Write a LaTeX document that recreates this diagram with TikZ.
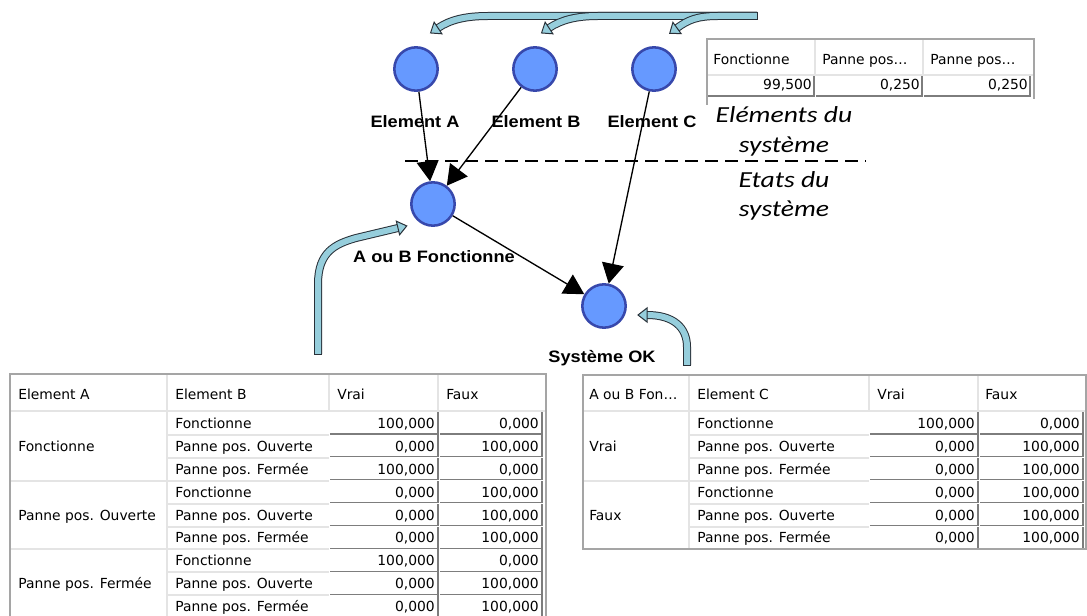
\documentclass[tikz,border=0pt]{standalone}
\usepackage{fontspec}
\usetikzlibrary{arrows.meta,decorations.markings}
\newfontfamily\tabfont{DejaVu Sans}
\newfontfamily\lblfont[FakeStretch=1.1]{Liberation Sans}
\newfontfamily\itfont[FakeStretch=1.2]{Carlito}
\definecolor{nodefill}{RGB}{102,153,255}
\definecolor{nodeline}{RGB}{55,72,172}
\definecolor{arfill}{RGB}{150,206,220}
\definecolor{arline}{RGB}{40,48,56}
\definecolor{gridlight}{RGB}{228,228,228}
\definecolor{gridouter}{RGB}{165,165,165}
\definecolor{celldark}{RGB}{125,125,125}
\begin{document}
\begin{tikzpicture}[x=0.75pt,y=-0.75pt,
  state/.style={circle, draw=nodeline, fill=nodefill, line width=1.9pt, minimum size=32.5pt, inner sep=0pt},
  lbl/.style={font=\lblfont\bfseries\fontsize{12.4pt}{14pt}\selectfont, inner sep=0pt},
  ittxt/.style={font=\itfont\itshape\fontsize{17.25pt}{20pt}\selectfont, inner sep=0pt},
  link/.style={draw=black, line width=1pt, -{Triangle[length=15pt, width=16.5pt]}},
  dashline/.style={draw=black, line width=0.8pt, dash pattern=on 9.75pt off 5.25pt},
  bigarrow/.style={preaction={draw=arline, line width=6pt}, draw=arfill, line width=4.5pt,
    postaction={decorate, decoration={markings,
      mark=at position 0 with {\draw[arline, line width=0.75pt] (0,-4) -- (0,4);},
      mark=at position 0.9999 with {\filldraw[fill=arfill, draw=arline, line width=0.75pt, line join=miter] (0,-7) -- (9,0) -- (0,7) -- cycle;}}}},
  tabtxt/.style={font=\tabfont\fontsize{10.4pt}{12pt}\selectfont, inner sep=0pt, anchor=base west},
  tabnum/.style={font=\tabfont\fontsize{10.4pt}{12pt}\selectfont, inner sep=0pt, anchor=base east},
  light/.style={draw=gridlight, line width=1.5pt},
  outer/.style={draw=gridouter, line width=0.9pt},
  sunk/.style={draw=celldark, line width=1pt}
]
\useasboundingbox (0,0) rectangle (1087,616);
\fill[white] (0,0) rectangle (1087,616);

% ---------- top-right small table ----------
\draw[light] (815,39) -- (815,75);
\draw[light] (923,39) -- (923,75);
\draw[light] (707,75) -- (1034,75);
\draw[sunk] (708,96) -- (814,96) -- (814,76);
\draw[sunk] (816,96) -- (922,96) -- (922,76);
\draw[sunk] (924,96) -- (1030,96) -- (1030,76);
\draw[outer] (707,105) -- (707,39) -- (1034,39) -- (1034,99);
\node[tabtxt] (t1) at (713,65) {Fonctionne};
\node[tabtxt] (t2) at (822,65) {Panne pos…};
\node[tabtxt] (t3) at (930,65) {Panne pos…};
\node[tabnum] (t4) at (812,90) {99,500};
\node[tabnum] (t5) at (920,90) {0,250};
\node[tabnum] (t6) at (1028,90) {0,250};

% ---------- italic texts ----------
\node[ittxt] (e1) at (784,115) {Eléments du};
\node[ittxt] (e2) at (784,147) {système};
\node[ittxt] (e3) at (784,180) {Etats du};
\node[ittxt] (e4) at (784,211) {système};
\coordinate (d1) at (405,161);
\coordinate (d2) at (866,161);
\draw[dashline] (d1) -- (d2);

% ---------- nodes ----------
\node[state] (A) at (416,69) {};
\node[state] (B) at (535,69) {};
\node[state] (C) at (654,69) {};
\node[state] (AB) at (433,204) {};
\node[state] (OK) at (604,306) {};
\node[lbl] (lA) at (415,122) {Element A};
\node[lbl] (lB) at (536,122) {Element B};
\node[lbl] (lC) at (652,122) {Element C};
\node[lbl] (lAB) at (434,257) {A ou B Fonctionne};
\node[lbl] (lOK) at (602,358) {Système OK};
\draw[link] (A) -- (AB);
\draw[link] (B) -- (AB);
\draw[link] (C) -- (OK);
\draw[link] (AB) -- (OK);

% ---------- big curved arrows ----------
\coordinate (src) at (757,16);
\coordinate (hA) at (438,28);
\coordinate (hB) at (549,28);
\coordinate (hC) at (677,28);
\draw[bigarrow] (src) -- (488,16) .. controls (465,16) and (450,20) .. (hA);
\draw[bigarrow] (src) -- (598,16) .. controls (576,16) and (561,20) .. (hB);
\draw[bigarrow] (src) -- (718,16) .. controls (697,16) and (688,20) .. (hC);
\coordinate (srcL) at (318,354);
\coordinate (hAB) at (398,228);
\draw[bigarrow] (srcL) -- (318,284) .. controls (318,252) and (335,244) .. (356,238) -- (hAB);
\coordinate (srcR) at (687,365);
\coordinate (hOK) at (647,315);
\draw[bigarrow] (srcR) -- (687,347) .. controls (687,327) and (673,315) .. (hOK);

% ---------- left table ----------
\foreach \i in {1,...,8} {
  \draw[light] (167,{412+22.9*\i}) -- (329,{412+22.9*\i});
}
\draw[light] (10,480.7) -- (167,480.7);
\draw[light] (10,549.4) -- (167,549.4);
\draw[light] (167,374) -- (167,616);
\draw[light] (329,374) -- (329,411);
\draw[light] (438,374) -- (438,411);
\draw[light] (10,411) -- (546,411);
\foreach \i in {1,...,9} {
  \pgfmathsetmacro\yt{412+22.9*(\i-1)}
  \pgfmathsetmacro\ybt{412+22.9*\i-1}
  \draw[sunk] (330,\ybt) -- (438,\ybt) -- (438,\yt);
  \draw[sunk] (440,\ybt) -- (542,\ybt) -- (542,\yt);
}
\draw[outer] (10,616) -- (10,374) -- (546,374) -- (546,616);
\node[tabtxt] (lh1) at (18,399) {Element A};
\node[tabtxt] (lh2) at (175,399) {Element B};
\node[tabtxt] (lh3) at (337,399) {Vrai};
\node[tabtxt] (lh4) at (446,399) {Faux};
\node[tabtxt] (lg1) at (18,451) {Fonctionne};
\node[tabtxt] (lg2) at (18,520) {Panne pos. Ouverte};
\node[tabtxt] (lg3) at (18,588) {Panne pos. Fermée};
\foreach \i/\eb/\va/\vb in {1/Fonctionne/{100,000}/{0,000}, 2/Panne pos. Ouverte/{0,000}/{100,000}, 3/Panne pos. Fermée/{100,000}/{0,000}, 4/Fonctionne/{0,000}/{100,000}, 5/Panne pos. Ouverte/{0,000}/{100,000}, 6/Panne pos. Fermée/{0,000}/{100,000}, 7/Fonctionne/{100,000}/{0,000}, 8/Panne pos. Ouverte/{0,000}/{100,000}, 9/Panne pos. Fermée/{0,000}/{100,000}} {
  \pgfmathsetmacro\yb{400.55+22.9*\i+5}
  \node[tabtxt] (LB\i) at (175,\yb) {\eb};
  \node[tabnum] (LV\i) at (435,\yb) {\va};
  \node[tabnum] (LF\i) at (539,\yb) {\vb};
}

% ---------- right table ----------
\foreach \i in {1,...,5} {
  \draw[light] (689,{412+22.9*\i}) -- (869,{412+22.9*\i});
}
\draw[light] (583,480.7) -- (689,480.7);
\draw[light] (689,375) -- (689,549);
\draw[light] (869,375) -- (869,411);
\draw[light] (978,375) -- (978,411);
\draw[light] (583,411) -- (1085,411);
\foreach \i in {1,...,6} {
  \pgfmathsetmacro\yt{412+22.9*(\i-1)}
  \pgfmathsetmacro\ybt{412+22.9*\i-1}
  \draw[sunk] (870,\ybt) -- (978,\ybt) -- (978,\yt);
  \draw[sunk] (980,\ybt) -- (1083,\ybt) -- (1083,\yt);
}
\draw[outer] (583,549) -- (583,375) -- (1086,375) -- (1086,549) -- cycle;
\node[tabtxt] (rh1) at (589,399) {A ou B Fon…};
\node[tabtxt] (rh2) at (697,399) {Element C};
\node[tabtxt] (rh3) at (877,399) {Vrai};
\node[tabtxt] (rh4) at (985,399) {Faux};
\node[tabtxt] (rg1) at (589,451) {Vrai};
\node[tabtxt] (rg2) at (589,520) {Faux};
\foreach \i/\ec/\va/\vb in {1/Fonctionne/{100,000}/{0,000}, 2/Panne pos. Ouverte/{0,000}/{100,000}, 3/Panne pos. Fermée/{0,000}/{100,000}, 4/Fonctionne/{0,000}/{100,000}, 5/Panne pos. Ouverte/{0,000}/{100,000}, 6/Panne pos. Fermée/{0,000}/{100,000}} {
  \pgfmathsetmacro\yb{400.55+22.9*\i+5}
  \node[tabtxt] (RC\i) at (697,\yb) {\ec};
  \node[tabnum] (RV\i) at (975,\yb) {\va};
  \node[tabnum] (RF\i) at (1080,\yb) {\vb};
}
\end{tikzpicture}
\end{document}
